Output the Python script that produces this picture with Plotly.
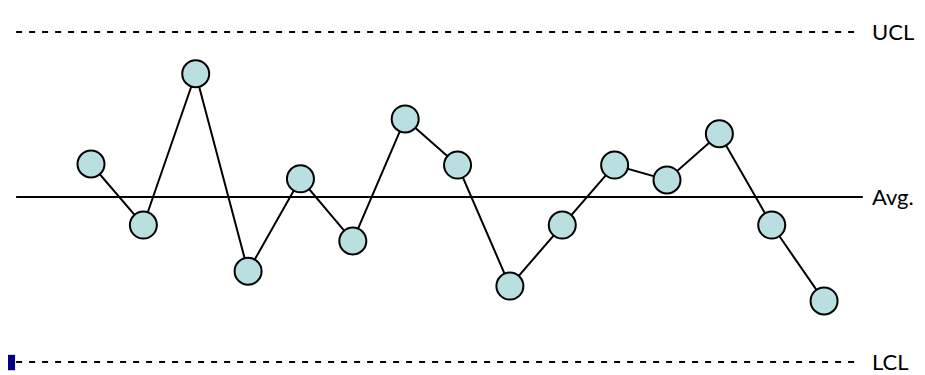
import plotly.graph_objects as go

# control chart data
samples = list(range(1, 16))
values = [56.0, 44.9, 72.4, 36.5, 53.3, 42.0, 64.2, 55.8, 33.8, 44.9, 55.8, 53.1, 61.5, 44.9, 31.1]
ucl = 80
avg = 50
lcl = 20
limit_labels = ["UCL", "Avg.", "LCL"]

fig = go.Figure()

fig.add_trace(go.Scatter(
    x=samples, y=values, mode="lines+markers",
    line=dict(color="black", width=2),
    marker=dict(size=27, color="#BADFE1", line=dict(color="black", width=2)),
    hoverinfo="skip",
))

# limit lines
x_start, x_end = -0.43, 15.65
fig.add_shape(type="line", x0=x_start, x1=x_end, y0=ucl, y1=ucl,
              line=dict(color="black", width=2, dash="6px,7px"))
fig.add_shape(type="line", x0=x_start, x1=15.74, y0=avg, y1=avg,
              line=dict(color="black", width=2))
fig.add_shape(type="line", x0=x_start, x1=x_end, y0=lcl, y1=lcl,
              line=dict(color="black", width=2, dash="6px,7px"))

for lbl, yv in zip(limit_labels, [ucl, avg, lcl]):
    fig.add_annotation(x=15.88, y=yv, text=lbl, showarrow=False,
                       xanchor="left", yanchor="middle",
                       font=dict(family="Lato", size=22, color="black"))

# small blue square at bottom-left
fig.add_shape(type="rect", xref="x", yref="y",
              x0=-0.75, x1=-0.45, y0=18.5, y1=21.3,
              fillcolor="#000080", line=dict(width=0))

fig.update_layout(
    width=925, height=375,
    margin=dict(l=0, r=0, t=0, b=0),
    paper_bgcolor="white", plot_bgcolor="white",
    showlegend=False,
    xaxis=dict(range=[-0.585, 17.08], visible=False),
    yaxis=dict(range=[16.18, 84.36], visible=False),
)

fig.write_html("out.html")
